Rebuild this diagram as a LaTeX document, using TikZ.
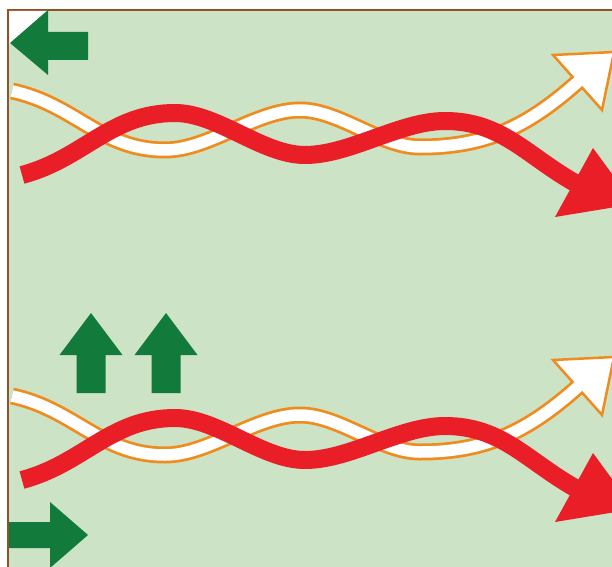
\documentclass[tikz,border=0pt]{standalone}
\usepackage{tikz}
\usetikzlibrary{arrows.meta,positioning}
\definecolor{bggreen}{RGB}{205,227,197}
\definecolor{pushgreen}{RGB}{18,122,58}
\definecolor{wavered}{RGB}{234,30,38}
\definecolor{waveorange}{RGB}{240,140,30}
\definecolor{framebrown}{RGB}{145,82,38}

\begin{document}
\begin{tikzpicture}[
        x=1pt, y=1pt,
        push/.style={fill=pushgreen},
        rim/.style={draw=waveorange, line width=17pt},
        core/.style={draw=white, line width=11.5pt},
        redwave/.style={draw=wavered, line width=18pt},
        whitehead/.style={fill=white, draw=waveorange, line width=2.5pt, line join=miter},
        redhead/.style={fill=wavered},
    ]
        \useasboundingbox (0,0) rectangle (612,566);
        \clip (0,0) rectangle (612,566);
        \fill[white] (0,0) rectangle (612,566);
        \fill[bggreen] (8,-10) rectangle (630,556);
        \draw[framebrown, line width=2.5pt] (8,-10) -- (8,556) -- (630,556);

        \foreach \dy in {0,305} {
            \begin{scope}[yshift=-\dy pt]
                \coordinate (wa) at (12,475);
                \coordinate (wb) at (165,416);
                \coordinate (wc) at (300,456);
                \coordinate (wd) at (420,419);
                \coordinate (we) at (580,486);
                \draw[rim] (wa) to[out=-12,in=180] (wb) to[out=0,in=180,looseness=0.8] (wc) to[out=0,in=180,looseness=0.8] (wd) to[out=0,in=222] (we);
                \filldraw[whitehead] (553,511) -- (614,514) -- (602,456) -- cycle;
                \draw[core] (wa) to[out=-12,in=180] (wb) to[out=0,in=180,looseness=0.8] (wc) to[out=0,in=180,looseness=0.8] (wd) to[out=0,in=222] (we);
                \draw[redwave] (22,391) to[out=15,in=180] (175,453) to[out=0,in=180,looseness=0.8] (305,411) to[out=0,in=180,looseness=0.8] (445,445) to[out=0,in=151] (577,382);
                \fill[redhead] (593,418) -- (634,362) -- (555,349) -- cycle;
            \end{scope}
        }

        \fill[white] (9.3,555) -- (48,555) -- (9.3,522) -- cycle;
        \fill[push] (10,523) -- (48,556) -- (48,534) -- (88,534) -- (88,506) -- (48,506) -- (48,491) -- cycle;
        \fill[push] (9,18) -- (50,18) -- (50,-2) -- (88,31) -- (50,64) -- (50,44) -- (9,44) -- cycle;
        \foreach \cx in {91,166}
            \fill[push] (\cx-14.5,173) -- (\cx+14.5,173) -- (\cx+14.5,211) -- (\cx+31.5,211) -- (\cx,253) -- (\cx-31.5,211) -- (\cx-14.5,211) -- cycle;
    \end{tikzpicture}
\end{document}
